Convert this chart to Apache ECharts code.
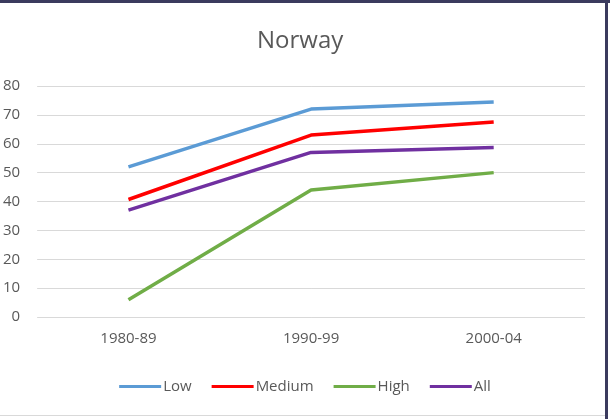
<!DOCTYPE html>
<html>
<head>
<meta charset="utf-8">
<script src="https://cdn.jsdelivr.net/npm/echarts@6/dist/echarts.min.js"></script>
<style>
  html, body { margin: 0; padding: 0; background: #fff; }
  #chart { width: 610px; height: 419px; }
</style>
</head>
<body>
<div id="chart"></div>
<script>
// Share of each income group, Norway, by period
const periods = ['1980-89', '1990-99', '2000-04'];
const low = [52, 72, 74.5];
const medium = [40.7, 63, 67.5];
const high = [6, 44, 50];
const all = [37, 57, 58.7];
const yTicks = { min: 0, max: 80, interval: 10 };

const names = ['Low', 'Medium', 'High', 'All'];
const colors = ['#5B9BD5', '#FF0000', '#70AD47', '#7030A0'];
const values = [low, medium, high, all];
const font = '"Open Sans", sans-serif';

const chart = echarts.init(document.getElementById('chart'));
chart.setOption({
  animation: false,
  color: colors,
  title: {
    text: 'Norway',
    left: 252,
    top: 24,
    textStyle: { fontFamily: font, fontSize: 24, fontWeight: 'normal', color: '#595959' }
  },
  grid: { left: 36, right: 25, top: 86, bottom: 102 },
  xAxis: {
    type: 'category',
    data: periods,
    boundaryGap: true,
    axisLine: { show: false },
    axisTick: { show: false },
    axisLabel: { fontFamily: font, fontSize: 15, color: '#595959', margin: 14 }
  },
  yAxis: {
    type: 'value',
    min: yTicks.min,
    max: yTicks.max,
    interval: yTicks.interval,
    axisLine: { show: false },
    axisTick: { show: false },
    axisLabel: { fontFamily: font, fontSize: 15, color: '#595959', margin: 17 },
    splitLine: { lineStyle: { color: '#d9d9d9', width: 1 } }
  },
  legend: {
    top: 374,
    left: 'center',
    itemWidth: 42,
    itemHeight: 3,
    itemGap: 20,
    icon: 'rect',
    textStyle: { fontFamily: font, fontSize: 15, color: '#595959', padding: [0, 0, 0, -3] },
    data: names
  },
  series: names.map((n, i) => ({
    name: n,
    type: 'line',
    data: values[i],
    showSymbol: false,
    symbol: 'none',
    lineStyle: { width: 3.5, color: colors[i] },
    itemStyle: { color: colors[i] }
  })),
  graphic: [
    { type: 'rect', shape: { x: 0, y: 0, width: 610, height: 3 }, style: { fill: '#3b3b5e' }, silent: true },
    { type: 'rect', shape: { x: 605, y: 0, width: 3, height: 419 }, style: { fill: '#3b3b5e' }, silent: true },
    { type: 'rect', shape: { x: 0, y: 415, width: 605, height: 1 }, style: { fill: '#d9d9d9' }, silent: true }
  ]
});
</script>
</body>
</html>
